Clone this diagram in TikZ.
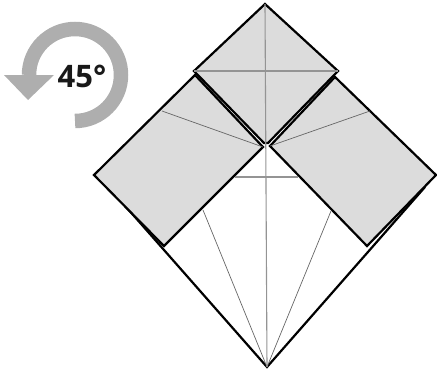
\documentclass[tikz,border=0pt]{standalone}
\usepackage{fontspec}
\setmainfont{Open Sans}
\usepackage{xcolor}
\definecolor{paperfill}{HTML}{DCDCDC}
\definecolor{turngray}{HTML}{AEAEAE}
\tikzset{
  foldedge/.style={black, line width=2.2pt, line join=miter, miter limit=3},
  crease/.style={black!60, line width=0.7pt},
  midcrease/.style={black!42, line width=1.1pt}
}

\begin{document}
\begin{tikzpicture}[x=1pt, y=-1pt]
  \useasboundingbox (0, 0) rectangle (437, 370);

  % Turn arrow
  \draw[turngray, line width=14.5pt] (75, 121) arc(90:-180:46);
  \fill[turngray] (4, 75) -- (54, 75) -- (28, 100) -- cycle;
  \node[font=\bfseries\fontsize{31}{31}\selectfont, text=black!90, inner sep=0pt] (turnlabel) at (82, 76) {45°};

  % Lower edges
  \draw[foldedge] (120, 200) -- (267, 367) -- (425, 187);

  % Side flaps
  \draw[foldedge, fill=paperfill] (195, 75) -- (94, 175) -- (164, 246) -- (263, 147) -- cycle;
  \draw[foldedge, fill=paperfill] (335, 77) -- (436, 175) -- (367, 246) -- (270, 146) -- cycle;

  % Top square
  \draw[foldedge, fill=paperfill] (265, 4) -- (194, 71) -- (264, 143) -- (268, 143) -- (338, 71) -- cycle;

  % Creases
  \draw[crease] (263, 147) -- (162, 111);
  \draw[crease] (270, 146) -- (370, 111);
  \draw[crease] (203, 210) -- (267, 367);
  \draw[crease] (331, 211) -- (267, 367);
  \draw[midcrease] (194, 71) -- (338, 71);
  \draw[midcrease] (235, 177) -- (298, 177);
  \draw[midcrease] (265, 4) -- (267, 367);
\end{tikzpicture}
\end{document}
